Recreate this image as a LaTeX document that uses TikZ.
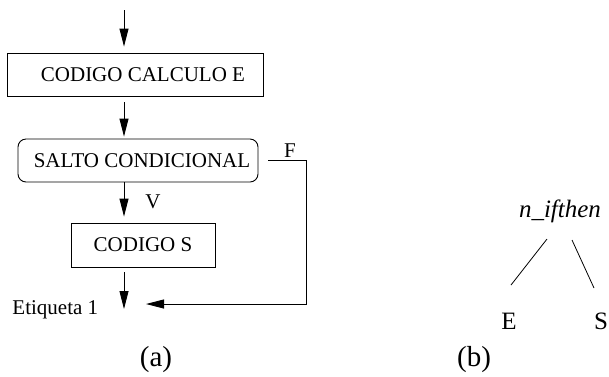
\documentclass[tikz,border=0pt]{standalone}
\usepackage{fontspec}
\setmainfont{Liberation Serif}
\usetikzlibrary{arrows.meta,calc}
\begin{document}
\begin{tikzpicture}[x=1pt,y=-1pt, line width=0.9pt,
  >={Triangle[length=18pt,width=9pt]},
  txt/.style={font=\fontsize{21}{25}\selectfont, inner sep=0pt},
  captxt/.style={font=\fontsize{29}{33}\selectfont, inner sep=0pt},
  tree/.style={font=\fontsize{25}{29}\selectfont, inner sep=0pt},
  box/.style={draw, rectangle, font=\fontsize{21}{25}\selectfont, inner sep=0pt},
  rbox/.style={box, rounded corners=8pt},
  ]
\useasboundingbox (0,0) rectangle (609,376);
\coordinate (col) at (124,0);
\coordinate (start) at (124,10);
\node[box, minimum width=256pt, minimum height=43pt] (e) at (135,74.5) {\hspace*{16pt}CODIGO CALCULO E};
\node[rbox, minimum width=240pt, minimum height=43pt] (c) at (138,160.5) {\hspace*{8pt}SALTO CONDICIONAL};
\node[box, minimum width=144pt, minimum height=44pt] (s) at (143,245) {CODIGO S};
\coordinate (end) at (124,309);
\coordinate (fa) at (268,160.5);
\coordinate (fb) at (306,160.5);
\coordinate (fc) at (306,304);
\coordinate (fend) at (146,304);

\draw[->, shorten >=6pt] (start) -- (e.north -| col);
\draw[->, shorten <=6pt, shorten >=2pt] (e.south -| col) -- (c.north -| col);
\draw[->, shorten >=6pt] (c.south -| col) -- (s.north -| col);
\draw[->, shorten <=5pt] (s.south -| col) -- (end);
\draw[->] (fa) -- (fb) -- (fc) -- (fend);

\node[txt, anchor=base] (flab) at (290,157) {F};
\node[txt, anchor=base] (vlab) at (153,208) {V};
\node[txt, anchor=base west] (etq) at (12,314) {Etiqueta 1};
\node[captxt, anchor=base] (capa) at (156,366) {(a)};
\node[captxt, anchor=base] (capb) at (474,366) {(b)};

\node[tree, anchor=base] (nif) at (560,217) {\itshape n\_ifthen};
\node[tree, anchor=base] (ne) at (509,329) {E};
\node[tree, anchor=base] (ns) at (601,329) {S};
\coordinate (l1) at (547,239);
\coordinate (l2) at (511,285);
\coordinate (r1) at (572,240);
\coordinate (r2) at (594,288);
\draw[line width=0.8pt] (l1) -- (l2);
\draw[line width=0.8pt] (r1) -- (r2);
\end{tikzpicture}
\end{document}
